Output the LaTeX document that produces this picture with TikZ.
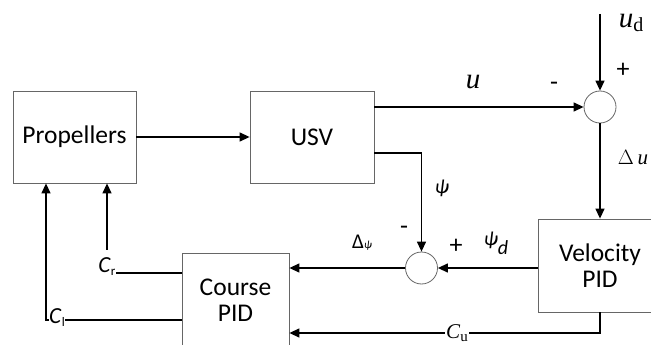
\documentclass[tikz,border=0pt]{standalone}
\usepackage{fontspec}
\setmainfont{Carlito}
\newfontfamily\timesfont{Liberation Serif}
\usetikzlibrary{arrows.meta}

\newcommand{\fs}[1]{\fontsize{#1}{#1}\selectfont}

\begin{document}
\begin{tikzpicture}[x=1pt, y=-1pt,
    every node/.style={inner sep=0pt},
    block/.style={draw=black!60, line width=0.8pt, align=center, font=\fs{25.5}},
    sumnode/.style={circle, draw=black!60, line width=0.8pt, minimum size=32pt},
    line/.style={line width=1.3pt},
    arr/.style={line, -{Triangle[length=10pt, width=9pt]}}]

  \useasboundingbox (0,0) rectangle (651,345);

  % blocks
  \node[block, minimum width=123pt, minimum height=92pt] (prop) at (74.5,137) {Propellers};
  \node[block, minimum width=124pt, minimum height=92pt] (usv) at (312,137) {USV};
  \node[block, minimum width=124pt, minimum height=93pt] (vpid) at (600,265.5) {Velocity\\PID};
  \node[block, minimum width=107pt, minimum height=94pt] (cpid) at (235.5,300) {Course\\PID};
  \node[sumnode] (sum1) at (600,107) {};
  \node[sumnode] (sum2) at (421.5,268) {};
  \coordinate (ud) at (600,14);
  \coordinate (clcorner) at (46,320);

  % connectors
  \draw[arr] (prop.east) -- (usv.west);
  \draw[arr] (usv.east |- sum1) -- (sum1.west);
  \draw[arr] (ud) -- (sum1.north);
  \draw[arr] (sum1.south) -- (vpid.north -| sum1);
  \draw[arr] (usv.east |- 0,153) -| (sum2.north);
  \draw[arr] (vpid.west |- sum2) -- (sum2.east);
  \draw[arr] (sum2.west) -- (cpid.east |- sum2);
  \draw[arr] (vpid.south -| sum1) |- (cpid.east |- 0,333);

  % labels
  \node (cu) at (457,333) [fill=white, inner xsep=1pt] {\timesfont\fs{21}\textit{C}\raisebox{-3pt}{\fs{15}u}};
  \node (cr) at (107,267) {\fs{23}\textit{C}\raisebox{-3pt}{\fs{13}r}};
  \node (cl) at (57,318) {\fs{23}\textit{C}\raisebox{-3pt}{\fs{13}l}};
  \draw[line] (cpid.west |- 0,273) -- (cr.east |- 0,273);
  \draw[arr] ([yshift=8pt]cr.north) -- (prop.south -| cr.north);
  \draw[line] (cpid.west |- clcorner) -- (cl.east |- clcorner);
  \draw[arr] (cl.west |- clcorner) -- (clcorner) -- (prop.south -| clcorner);

  \node (lu) at (473,82) {\timesfont\fs{29}\textit{u}};
  \node (lud) at (631,23) {\timesfont\fs{29}\textit{u}\raisebox{-4pt}{\fs{20}d}};
  \node (lplus1) at (623,70) {\fs{26}+};
  \node (lminus1) at (554,86) {\fs{26}-};
  \node (ldu) at (633,158) {\timesfont\fs{21}$\Delta$\,\textit{u}};
  \node (lpsi) at (442,188) {\fs{20}\textit{ψ}};
  \node (lminus2) at (404,230) {\fs{26}-};
  \node (lplus2) at (456,246) {\fs{26}+};
  \node (lpsid) at (496,243) {\fs{20}\textit{ψ}\raisebox{-9pt}{\textit{d}}};
  \node (ldpsi) at (362,243) {\fs{21}Δ{\fs{11}\textit{ψ}}};
\end{tikzpicture}
\end{document}
